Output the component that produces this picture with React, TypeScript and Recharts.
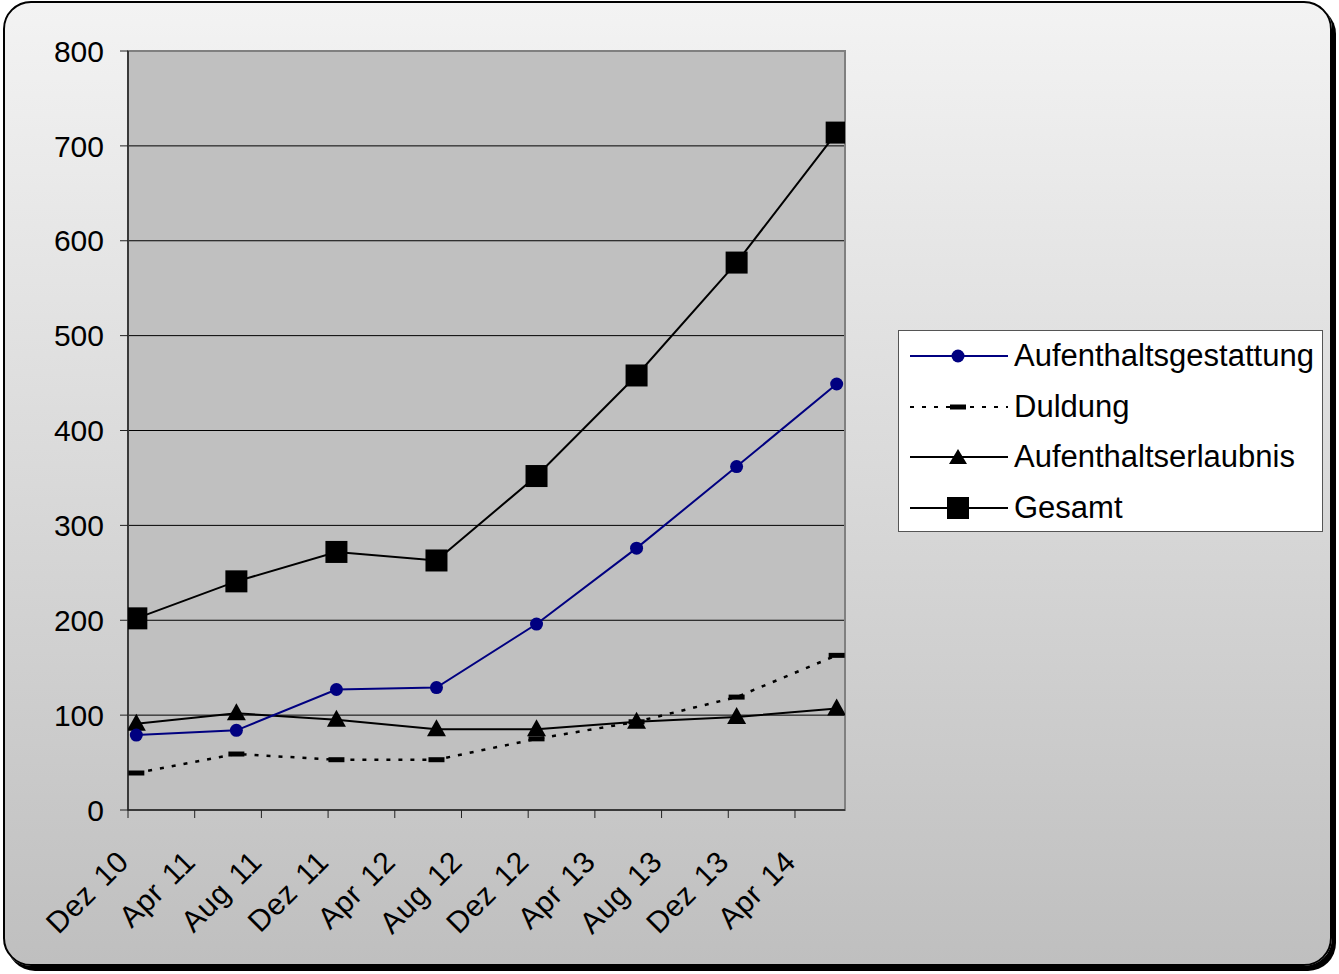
import React from "react";
import {
  LineChart,
  Line,
  XAxis,
  YAxis,
  CartesianGrid,
  ReferenceArea,
} from "recharts";

// x positions in months after 1 Dec 2010
const months = [0.5, 6.5, 12.5, 18.5, 24.5, 30.5, 36.5, 42.5];
const tickMonths = [0, 4, 8, 12, 16, 20, 24, 28, 32, 36, 40];
const tickLabels = [
  "Dez 10",
  "Apr 11",
  "Aug 11",
  "Dez 11",
  "Apr 12",
  "Aug 12",
  "Dez 12",
  "Apr 13",
  "Aug 13",
  "Dez 13",
  "Apr 14",
];
const yTicks = [0, 100, 200, 300, 400, 500, 600, 700, 800];
const gridValues = [100, 200, 300, 400, 500, 600, 700];

const gestattung = [79, 84, 127, 129, 196, 276, 362, 449];
const duldung = [39, 59, 53, 53, 75, 93, 119, 163];
const erlaubnis = [91, 102, 95, 85, 85, 93, 98, 107];
const gesamt = [202, 241, 272, 263, 352, 458, 577, 714];

const data = months.map((m, i) => ({
  m,
  gestattung: gestattung[i],
  duldung: duldung[i],
  erlaubnis: erlaubnis[i],
  gesamt: gesamt[i],
}));

const FONT = "'Liberation Sans', Arial, sans-serif";

const CircleDot = (p: any) =>
  p.cx == null ? null : <circle key={p.index} cx={p.cx} cy={p.cy} r={6.5} fill="#000080" />;
const DashDot = (p: any) =>
  p.cx == null ? null : <rect key={p.index} x={p.cx - 8} y={p.cy - 2.5} width={16} height={5} fill="#000" />;
const TriDot = (p: any) =>
  p.cx == null ? null : (
    <polygon
      key={p.index}
      points={`${p.cx},${p.cy - 10} ${p.cx + 9.5},${p.cy + 7} ${p.cx - 9.5},${p.cy + 7}`}
      fill="#000"
    />
  );
const SquareDot = (p: any) =>
  p.cx == null ? null : <rect key={p.index} x={p.cx - 11} y={p.cy - 11} width={22} height={22} fill="#000" />;

const XTick = (p: any) => {
  const { x, payload } = p;
  const idx = tickMonths.indexOf(payload.value);
  const tx = x - 5;
  const ty = 856;
  return (
    <text
      x={tx}
      y={ty}
      dy="0.35em"
      textAnchor="end"
      transform={`rotate(-45, ${tx}, ${ty})`}
      fontSize={30}
      letterSpacing={0.6}
      wordSpacing={3}
      fontFamily={FONT}
      fill="#000"
    >
      {tickLabels[idx]}
    </text>
  );
};

const legendItems = [
  { name: "Aufenthaltsgestattung", color: "#000080", dash: undefined as string | undefined, marker: "circle" },
  { name: "Duldung", color: "#000", dash: "4 8", marker: "dash" },
  { name: "Aufenthaltserlaubnis", color: "#000", dash: undefined, marker: "tri" },
  { name: "Gesamt", color: "#000", dash: undefined, marker: "square" },
];

const LegendMarker = ({ marker }: { marker: string }) => {
  const cx = 48;
  const cy = 10;
  if (marker === "circle") return <circle cx={cx} cy={cy} r={6.5} fill="#000080" />;
  if (marker === "dash") return <rect x={cx - 8} y={cy - 2.5} width={16} height={5} fill="#000" />;
  if (marker === "tri")
    return <polygon points={`${cx},${cy - 8} ${cx + 9},${cy + 7} ${cx - 9},${cy + 7}`} fill="#000" />;
  return <rect x={cx - 11} y={cy - 11} width={22} height={22} fill="#000" />;
};

export default function App() {
  return (
    <div style={{ position: "absolute", left: 0, top: 0, width: 1339, height: 974 }}>
      <div
        style={{
          position: "absolute",
          left: 3,
          top: 1,
          width: 1329,
          height: 965,
          boxSizing: "border-box",
          border: "2px solid #000",
          borderRadius: 28,
          boxShadow: "4px 5px 0 0 #000",
          background: "linear-gradient(to bottom, #f3f3f3 0%, #bfbfbf 100%)",
        }}
      />
      <div style={{ position: "absolute", left: 0, top: 0 }}>
        <LineChart
          width={1339}
          height={974}
          data={data}
          margin={{ top: 51, right: 494, left: 0, bottom: 44 }}
        >
          <CartesianGrid
            vertical={false}
            horizontalValues={gridValues}
            stroke="#000"
            strokeWidth={1}
            fill="#c0c0c0"
            fillOpacity={1}
          />
          <ReferenceArea
            x1={0}
            x2={43}
            y1={0}
            y2={800}
            fill="none"
            stroke="#808080"
            strokeWidth={2}
            ifOverflow="visible"
          />
          <XAxis
            dataKey="m"
            type="number"
            domain={[0, 43]}
            ticks={tickMonths}
            interval={0}
            height={120}
            tick={<XTick />}
            tickSize={8}
            axisLine={{ stroke: "#222", strokeWidth: 1.5 }}
            tickLine={{ stroke: "#222", strokeWidth: 1 }}
            allowDataOverflow
          />
          <YAxis
            type="number"
            domain={[0, 800]}
            ticks={yTicks}
            interval={0}
            width={128}
            tickSize={8}
            tickMargin={16}
            tick={{ fontSize: 30, fontFamily: FONT, fill: "#000" }}
            axisLine={{ stroke: "#222", strokeWidth: 1.5 }}
            tickLine={{ stroke: "#222", strokeWidth: 1 }}
          />
          <Line
            type="linear"
            dataKey="duldung"
            stroke="#000"
            strokeWidth={2.5}
            strokeDasharray="4 8"
            dot={DashDot}
            activeDot={false}
            isAnimationActive={false}
          />
          <Line
            type="linear"
            dataKey="erlaubnis"
            stroke="#000"
            strokeWidth={2}
            dot={TriDot}
            activeDot={false}
            isAnimationActive={false}
          />
          <Line
            type="linear"
            dataKey="gestattung"
            stroke="#000080"
            strokeWidth={2}
            dot={CircleDot}
            activeDot={false}
            isAnimationActive={false}
          />
          <Line
            type="linear"
            dataKey="gesamt"
            stroke="#000"
            strokeWidth={2}
            dot={SquareDot}
            activeDot={false}
            isAnimationActive={false}
          />
        </LineChart>
      </div>
      <div
        style={{
          position: "absolute",
          left: 898,
          top: 330,
          width: 425,
          height: 202,
          boxSizing: "border-box",
          background: "#fff",
          border: "1px solid #555",
          fontFamily: FONT,
          fontSize: 31,
          color: "#000",
        }}
      >
        {legendItems.map((it, i) => (
          <div
            key={it.name}
            style={{
              position: "absolute",
              left: 11,
              top: 25 + i * 50.7 - 20,
              height: 40,
              display: "flex",
              alignItems: "center",
              whiteSpace: "nowrap",
            }}
          >
            <svg width={98} height={20} style={{ overflow: "visible" }}>
              <line
                x1={0}
                y1={10}
                x2={98}
                y2={10}
                stroke={it.color}
                strokeWidth={2}
                strokeDasharray={it.dash}
              />
              <LegendMarker marker={it.marker} />
            </svg>
            <span style={{ marginLeft: 6 }}>{it.name}</span>
          </div>
        ))}
      </div>
    </div>
  );
}
